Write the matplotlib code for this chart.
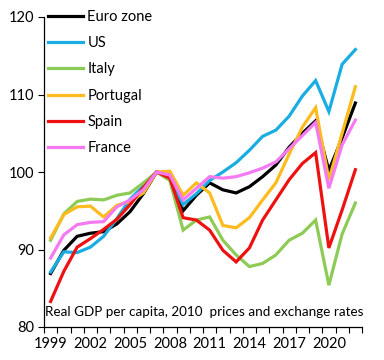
import matplotlib
matplotlib.use("Agg")
import matplotlib.pyplot as plt
import numpy as np

years = list(range(1999, 2023))
tick_labels = ["1999", "2002", "2005", "2008", "2011", "2014", "2017", "2020"]

euro_zone = [86.9, 89.9, 91.7, 92.1, 92.3, 93.3, 94.9, 97.2, 100.0, 99.6, 95.0, 97.0, 98.6,
             97.7, 97.3, 98.1, 99.4, 100.9, 103.2, 105.0, 106.6, 100.2, 104.4, 108.9]
us = [87.1, 89.7, 89.6, 90.3, 91.7, 94.0, 96.5, 98.2, 100.0, 99.3, 95.8, 97.2, 98.9,
      100.0, 101.2, 102.8, 104.6, 105.4, 107.2, 109.8, 111.8, 107.8, 113.9, 115.8]
italy = [91.2, 94.6, 96.2, 96.5, 96.4, 97.0, 97.3, 98.6, 100.0, 98.9, 92.5, 93.8, 94.2,
         91.2, 89.3, 87.8, 88.2, 89.3, 91.2, 92.1, 93.8, 85.4, 92.0, 96.0]
portugal = [91.5, 94.5, 95.5, 95.6, 94.2, 95.7, 96.2, 97.3, 100.0, 100.1, 97.0, 98.6, 97.3,
            93.1, 92.8, 94.1, 96.4, 98.6, 102.3, 105.8, 108.3, 99.0, 105.0, 111.0]
spain = [83.3, 87.2, 90.3, 91.4, 92.6, 93.9, 95.8, 98.0, 100.0, 99.2, 94.1, 93.8, 92.5,
         89.9, 88.4, 90.2, 93.8, 96.4, 99.0, 101.1, 102.5, 90.2, 95.1, 100.3]
france = [88.9, 91.9, 93.2, 93.5, 93.6, 95.5, 96.4, 97.7, 100.0, 99.6, 96.4, 97.9, 99.4,
          99.2, 99.4, 99.9, 100.5, 101.3, 103.0, 104.7, 106.4, 97.9, 103.5, 106.7]

series = [
    ("Euro zone", euro_zone, "#000000"),
    ("US", us, "#1AADE2"),
    ("Italy", italy, "#8DCB56"),
    ("Portugal", portugal, "#FDBB1D"),
    ("Spain", spain, "#EE1111"),
    ("France", france, "#F57AF2"),
]

FONT = "Lato"
plt.rcParams["font.family"] = [FONT, "DejaVu Sans"]

fig = plt.figure(figsize=(3.84, 3.60), dpi=100)
ax = fig.add_axes([44/384, 1-327/360, (362-44)/384, (327-17)/360])

x = np.arange(len(years))
for name, vals, col in series:
    ax.plot(x, vals, color=col, lw=2.3, label=name, solid_joinstyle="miter")

ax.set_xlim(-0.5, len(years) - 0.5)
ax.set_ylim(80, 120)
ax.set_yticks([80, 90, 100, 110, 120])
ax.set_xticks(np.arange(-0.5, len(years), 1.0), minor=False)
ax.set_xticklabels([])
ax.set_xticks([years.index(int(t)) for t in tick_labels], minor=True)
ax.set_xticklabels(tick_labels, minor=True)
ax.tick_params(axis="x", which="major", length=4, direction="out", width=0.8)
ax.tick_params(axis="x", which="minor", length=0, pad=7, labelsize=10.5)
ax.tick_params(axis="y", length=4, direction="out", width=0.8, labelsize=10.5, pad=3)
for s in ["top", "right"]:
    ax.spines[s].set_visible(False)
for s in ["left", "bottom"]:
    ax.spines[s].set_linewidth(0.9)

ax.text(0.003, 0.028, "Real GDP per capita, 2010  prices and exchange rates",
        transform=ax.transAxes, fontsize=9.7, ha="left", va="bottom")

leg = ax.legend(loc="upper left", bbox_to_anchor=(48/384, 1-10/360),
                bbox_transform=fig.transFigure, frameon=False, fontsize=10.5,
                handlelength=2.4, handletextpad=0.3, labelspacing=0.84,
                borderpad=0, borderaxespad=0)

fig.savefig("out.png", dpi=100)
